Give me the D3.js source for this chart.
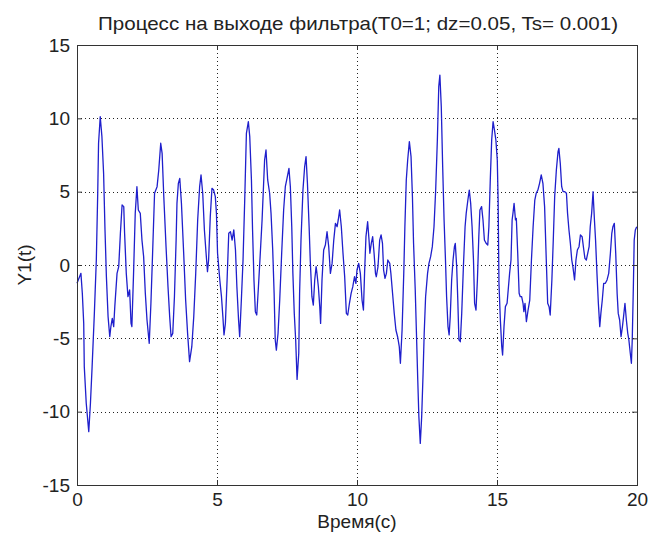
<!DOCTYPE html>
<html>
<head>
<meta charset="utf-8">
<script src="https://cdn.jsdelivr.net/npm/d3@7"></script>
<style>
  html, body { margin: 0; padding: 0; background: #fff; }
  svg { display: block; font-family: "Liberation Sans", Arial, sans-serif; }
</style>
</head>
<body>
<svg id="chart" width="654" height="538"></svg>
<script>
const titleText = "Процесс на выходе фильтра(T0=1; dz=0.05, Ts= 0.001)";
const xLabel = "Время(с)";
const yLabel = "Y1(t)";
const xTicks = [0, 5, 10, 15, 20];
const yTicks = [-15, -10, -5, 0, 5, 10, 15];

// отсчёты
const time = [
  0.00, 0.14, 0.19, 0.24, 0.26, 0.33, 0.42, 0.48, 0.54, 0.62, 0.69, 0.74, 0.77, 0.83, 0.89, 0.95,
  1.00, 1.05, 1.11, 1.17, 1.21, 1.26, 1.31, 1.35, 1.43, 1.49, 1.55, 1.61, 1.67, 1.70, 1.76, 1.82,
  1.88, 1.93, 1.96, 2.02, 2.08, 2.14, 2.19, 2.26, 2.32, 2.38, 2.44, 2.50, 2.58, 2.64, 2.70, 2.77,
  2.86, 2.92, 2.99, 3.04, 3.10, 3.18, 3.25, 3.31, 3.36, 3.42, 3.48, 3.54, 3.57, 3.62, 3.67, 3.73,
  3.81, 3.88, 3.95, 4.02, 4.10, 4.17, 4.24, 4.31, 4.38, 4.43, 4.49, 4.55, 4.61, 4.66, 4.70, 4.76,
  4.82, 4.88, 4.94, 4.98, 5.02, 5.10, 5.16, 5.21, 5.25, 5.30, 5.36, 5.42, 5.48, 5.54, 5.60, 5.66,
  5.71, 5.77, 5.81, 5.87, 5.93, 5.99, 6.05, 6.12, 6.17, 6.23, 6.27, 6.32, 6.37, 6.42, 6.48, 6.54,
  6.61, 6.67, 6.70, 6.75, 6.81, 6.88, 6.93, 6.99, 7.04, 7.08, 7.12, 7.18, 7.24, 7.31, 7.38, 7.44,
  7.50, 7.57, 7.62, 7.67, 7.71, 7.76, 7.81, 7.86, 7.92, 7.95, 8.00, 8.07, 8.13, 8.18, 8.23, 8.29,
  8.33, 8.39, 8.44, 8.49, 8.54, 8.57, 8.62, 8.67, 8.70, 8.75, 8.81, 8.87, 8.93, 8.99, 9.05, 9.11,
  9.17, 9.23, 9.29, 9.33, 9.38, 9.44, 9.50, 9.56, 9.62, 9.67, 9.73, 9.79, 9.85, 9.91, 9.96, 10.00,
  10.06, 10.12, 10.18, 10.23, 10.27, 10.32, 10.38, 10.43, 10.46, 10.51, 10.56, 10.61, 10.66, 10.69,
  10.75, 10.81, 10.86, 10.91, 10.95, 11.00, 11.05, 11.10, 11.17, 11.21, 11.27, 11.33, 11.39, 11.45,
  11.51, 11.55, 11.61, 11.67, 11.71, 11.76, 11.81, 11.87, 11.93, 11.98, 12.02, 12.08, 12.12, 12.17,
  12.21, 12.26, 12.31, 12.36, 12.40, 12.45, 12.52, 12.57, 12.63, 12.69, 12.75, 12.81, 12.87, 12.92,
  12.96, 13.01, 13.06, 13.11, 13.16, 13.20, 13.25, 13.29, 13.33, 13.38, 13.43, 13.48, 13.51, 13.56,
  13.60, 13.64, 13.69, 13.74, 13.80, 13.86, 13.90, 13.96, 14.01, 14.06, 14.11, 14.16, 14.20, 14.25,
  14.30, 14.35, 14.39, 14.45, 14.50, 14.55, 14.61, 14.67, 14.71, 14.76, 14.81, 14.86, 14.91, 14.96,
  15.01, 15.04, 15.07, 15.12, 15.17, 15.20, 15.25, 15.30, 15.36, 15.40, 15.45, 15.50, 15.54, 15.57,
  15.61, 15.66, 15.69, 15.74, 15.79, 15.83, 15.88, 15.93, 15.96, 16.00, 16.05, 16.11, 16.17, 16.23,
  16.29, 16.35, 16.40, 16.46, 16.52, 16.58, 16.64, 16.70, 16.76, 16.81, 16.86, 16.90, 16.96, 17.01,
  17.06, 17.12, 17.18, 17.21, 17.26, 17.31, 17.36, 17.42, 17.48, 17.52, 17.57, 17.62, 17.67, 17.71,
  17.77, 17.82, 17.87, 17.93, 17.98, 18.04, 18.10, 18.14, 18.19, 18.24, 18.29, 18.33, 18.38, 18.43,
  18.48, 18.52, 18.57, 18.62, 18.67, 18.71, 18.76, 18.81, 18.87, 18.93, 18.99, 19.05, 19.10, 19.14,
  19.19, 19.24, 19.29, 19.33, 19.38, 19.43, 19.48, 19.52, 19.57, 19.62, 19.67, 19.71, 19.76, 19.80,
  19.83, 19.87, 19.90, 19.94, 19.99
];

const y1 = [
  -1.25, -0.57, -1.93, -3.98, -6.93, -9.43, -11.36, -9.43, -6.93, -3.30, 0.34, 4.89, 8.30, 10.11, 8.75, 6.25,
  2.39, -0.80, -3.52, -4.89, -4.20, -3.64, -4.20, -2.84, -0.57, -0.11, 2.16, 4.09, 3.98, 2.16, -0.57, -2.16,
  -1.70, -3.98, -4.20, -0.57, 3.52, 5.34, 3.75, 3.52, 1.70, 0.57, -1.93, -3.75, -5.34, -2.61, 0.80, 4.89,
  5.34, 6.48, 8.30, 7.61, 4.66, 1.25, -1.48, -3.52, -4.89, -4.66, -2.16, 1.70, 4.20, 5.57, 5.91, 4.20,
  0.80, -2.39, -4.66, -6.59, -5.57, -3.52, -0.57, 3.07, 5.34, 6.14, 4.89, 2.39, 0.80, -0.45, 0.34, 3.30,
  5.23, 5.11, 4.66, 3.52, 0.80, -1.02, -2.16, -3.52, -4.77, -3.98, -1.02, 2.16, 2.27, 1.70, 2.39, 1.02,
  -1.48, -3.75, -4.89, -2.39, 0.34, 4.43, 8.98, 9.77, 8.75, 5.80, 2.39, -1.02, -3.18, -3.41, -1.48, 0.57,
  3.07, 5.80, 7.16, 7.84, 5.80, 4.89, 3.52, 1.02, -1.93, -5.11, -5.80, -4.66, -2.39, 0.80, 3.75, 5.34,
  5.91, 6.59, 5.34, 2.61, -0.57, -3.30, -5.11, -7.80, -6.02, -1.93, 1.70, 5.11, 6.70, 7.39, 5.57, 2.61,
  0.34, -2.16, -2.73, -1.02, -0.11, -0.57, -1.48, -2.84, -3.98, -1.02, 1.02, 1.36, 2.27, 1.25, -0.57, 0.11,
  1.70, 2.84, 2.61, 3.07, 3.75, 2.61, 0.80, -0.80, -3.30, -3.41, -2.61, -1.93, -1.48, -0.80, -1.25, -0.34,
  0.11, -0.57, -2.39, -3.07, -0.57, 1.93, 2.95, 1.70, 0.80, 1.48, 1.93, 0.80, -0.57, -0.80,
  -0.11, 1.70, 2.05, 1.48, -0.34, -0.91, -0.57, 0.34, 0.11, -0.57, -1.93, -3.30, -4.43, -4.89,
  -5.57, -6.70, -4.43, -0.57, 2.61, 5.80, 7.16, 8.41, 7.39, 4.66, 1.48, -1.70, -4.43, -7.84,
  -10.34, -12.16, -10.34, -7.39, -4.66, -2.16, -0.57, 0.11, 0.57, 1.25, 2.61, 5.11, 8.52, 12.16,
  12.95, 10.80, 6.70, 3.07, 0.34, -2.16, -4.20, -4.77, -3.52, -1.02, 0.34, 1.25, 1.48, -0.11,
  -2.39, -5.11, -5.23, -3.30, -0.11, 2.61, 3.52, 4.43, 5.11, 4.20, 2.61, 0.34, -2.61, -3.07,
  -1.02, 1.93, 3.75, 3.98, 3.07, 1.70, 1.48, 1.36, 2.61, 5.80, 8.52, 9.77, 9.20, 8.52,
  7.16, 4.43, -1.25, -3.75, -5.57, -6.14, -4.20, -2.84, -2.61, -1.70, -0.57, 0.34, 3.07, 3.52,
  4.20, 3.07, 3.18, 0.80, -1.93, -2.16, -2.16, -2.61, -3.18, -2.61, -3.86, -3.07, -2.39, 0.34,
  2.61, 4.43, 4.89, 5.11, 5.57, 6.14, 5.57, 3.98, 0.34, -2.61, -2.84, -3.41, -1.02, 1.70,
  4.66, 6.48, 7.73, 7.95, 6.93, 5.34, 5.00, 5.00, 4.89, 3.52, 2.39, 1.48, 0.34, -0.11,
  -1.02, 0.34, 1.02, 1.25, 2.05, 1.93, 1.02, 0.45, 0.34, 0.80, 1.25, 2.61, 3.52, 5.00,
  3.07, 1.70, -0.57, -2.61, -4.20, -3.30, -2.39, -1.25, -1.25, -1.02, -0.57, 0.80, 2.16, 2.61,
  2.84, 0.80, -1.93, -3.30, -3.75, -4.89, -4.20, -3.52, -2.61, -3.75, -4.66, -5.11, -6.02, -6.70,
  -5.11, -1.48, 1.70, 2.39, 2.61
];

const svg = d3.select("#chart");
const width = 654;
const height = 538;
const margin = { top: 45, right: 17, bottom: 53, left: 77 };
const innerWidth = width - margin.left - margin.right;
const innerHeight = height - margin.top - margin.bottom;
const fontFamily = "'Liberation Sans', Arial, sans-serif";

svg.append("rect")
    .attr("width", width)
    .attr("height", height)
    .attr("fill", "#fff");

const g = svg.append("g").attr("transform", `translate(${margin.left},${margin.top})`);

const x = d3.scaleLinear().domain([0, 20]).range([0, innerWidth]);
const y = d3.scaleLinear().domain([-15, 15]).range([innerHeight, 0]);

// сетка
g.append("g")
    .selectAll("line")
    .data(xTicks.slice(1, -1))
    .join("line")
    .attr("x1", d => Math.round(x(d)) + 0.5)
    .attr("x2", d => Math.round(x(d)) + 0.5)
    .attr("y1", 0)
    .attr("y2", innerHeight)
    .attr("stroke", "#222")
    .attr("stroke-dasharray", "1,3");

g.append("g")
    .selectAll("line")
    .data(yTicks.slice(1, -1))
    .join("line")
    .attr("x1", 0)
    .attr("x2", innerWidth)
    .attr("y1", d => Math.round(y(d)) + 0.5)
    .attr("y2", d => Math.round(y(d)) + 0.5)
    .attr("stroke", "#222")
    .attr("stroke-dasharray", "1,3");

// сигнал
const line = d3.line()
    .x((d, i) => x(time[i]))
    .y(d => y(d));

g.append("path")
    .datum(y1)
    .attr("fill", "none")
    .attr("stroke", "#1f1fcc")
    .attr("stroke-width", 1.3)
    .attr("stroke-linejoin", "round")
    .attr("d", line);

// оси с внутренними засечками
const tickLen = 5;
const fmt = d => String(d);
function styleAxis(sel) {
    sel.attr("font-size", 19).attr("font-family", fontFamily);
    sel.select(".domain").remove();
    sel.selectAll(".tick line").attr("stroke", "#333");
    sel.selectAll(".tick text").attr("fill", "#222");
}
function bareAxis(sel) {
    sel.select(".domain").remove();
    sel.selectAll(".tick text").remove();
    sel.selectAll(".tick line").attr("stroke", "#333");
}

g.append("g")
    .attr("transform", `translate(0,${innerHeight})`)
    .call(d3.axisBottom(x).tickValues(xTicks).tickFormat(fmt).tickSizeInner(-tickLen).tickSizeOuter(0).tickPadding(8))
    .call(styleAxis);

g.append("g")
    .call(d3.axisTop(x).tickValues(xTicks).tickSizeInner(-tickLen).tickSizeOuter(0))
    .call(bareAxis);

g.append("g")
    .call(d3.axisLeft(y).tickValues(yTicks).tickFormat(fmt).tickSizeInner(-tickLen).tickSizeOuter(0).tickPadding(7))
    .call(styleAxis);

g.append("g")
    .attr("transform", `translate(${innerWidth},0)`)
    .call(d3.axisRight(y).tickValues(yTicks).tickSizeInner(-tickLen).tickSizeOuter(0))
    .call(bareAxis);

g.append("rect")
    .attr("x", 0.5)
    .attr("y", 0.5)
    .attr("width", innerWidth)
    .attr("height", innerHeight)
    .attr("fill", "none")
    .attr("stroke", "#333");

// подписи
svg.append("text")
    .attr("x", 358)
    .attr("y", 30)
    .attr("text-anchor", "middle")
    .attr("fill", "#222")
    .attr("font-size", 19)
    .attr("textLength", 520)
    .attr("lengthAdjust", "spacingAndGlyphs")
    .text(titleText);

svg.append("text")
    .attr("x", margin.left + innerWidth / 2)
    .attr("y", 528)
    .attr("text-anchor", "middle")
    .attr("fill", "#222")
    .attr("font-size", 19)
    .text(xLabel);

svg.append("text")
    .attr("transform", `translate(31,${margin.top + innerHeight / 2}) rotate(-90)`)
    .attr("text-anchor", "middle")
    .attr("fill", "#222")
    .attr("font-size", 19)
    .text(yLabel);
</script>
</body>
</html>
